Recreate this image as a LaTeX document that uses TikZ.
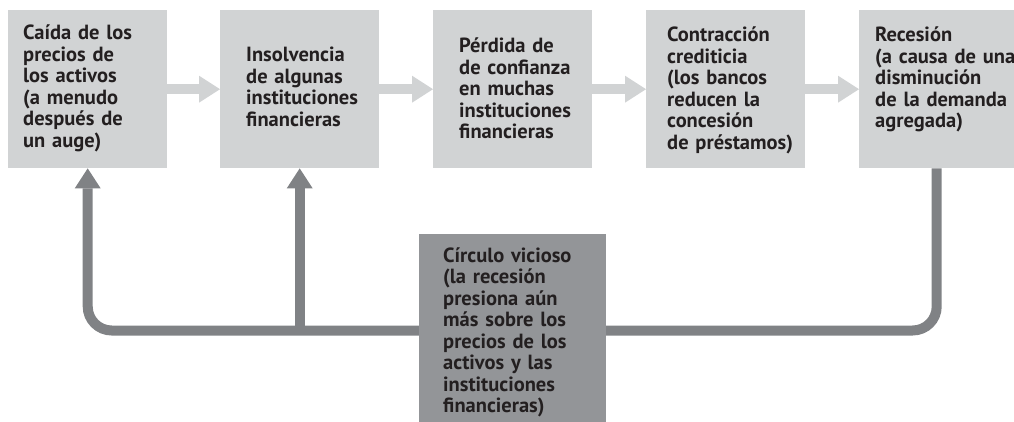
\documentclass[tikz,border=0pt]{standalone}
\usepackage{fontspec}
\setmainfont{PT Sans}
\usetikzlibrary{arrows.meta}

\definecolor{boxgray}{HTML}{D1D3D4}
\definecolor{loopgray}{HTML}{808285}
\definecolor{cvgray}{HTML}{939598}
\definecolor{inkblack}{HTML}{231F20}

\tikzset{
  stage/.style={fill=boxgray, inner sep=0pt, minimum width=159pt, minimum height=158pt, anchor=north west},
  cvbox/.style={fill=cvgray, inner sep=0pt, minimum width=187pt, minimum height=188pt, anchor=north west},
  stagetext/.style={anchor=base west, inner sep=0pt, text width=175pt, align=left, text=inkblack,
    font=\bfseries\fontsize{20.5}{21.5}\selectfont},
  flow/.style={draw=boxgray, line width=10pt, -{Triangle[width=27pt,length=21pt,line width=0pt]}},
  back/.style={draw=loopgray, line width=10pt, -{Triangle[width=26pt,length=20pt,line width=0pt]}},
}

\begin{document}
\begin{tikzpicture}[x=1pt,y=-1pt]
  \useasboundingbox (0,0) rectangle (1014,422);
  % the five stages
  \node[stage] (b1) at (8,10) {};
  \node[stage] (b2) at (220,10) {};
  \node[stage] (b3) at (433,10) {};
  \node[stage] (b4) at (646,10) {};
  \node[stage, minimum width=155pt] (b5) at (859,10) {};
  \foreach \a/\b in {b1/b2,b2/b3,b3/b4,b4/b5} {
    \draw[flow] (\a) -- (\b);
  }
  % feedback loop
  \coordinate (loopy) at (0,330.5);
  \draw[back, rounded corners=24pt] (b5.south) -- (b5.south |- loopy) -- (b1.south |- loopy) -- (b1.south);
  \draw[back] (b2.south |- loopy) -- (b2.south);
  \node[cvbox] (cv) at (419,234) {};
  % texts
  \node[stagetext, xshift=15pt, yshift=-30pt] (t1) at (b1.north west)
    {Caída de los\\precios de\\los activos\\(a menudo\\después de\\un auge)};
  \node[stagetext, xshift=26pt, yshift=-52pt] (t2) at (b2.north west)
    {Insolvencia\\de algunas\\instituciones\\financieras};
  \node[stagetext, xshift=26pt, yshift=-43pt] (t3) at (b3.north west)
    {Pérdida de\\de confianza\\en muchas\\instituciones\\financieras};
  \node[stagetext, xshift=21pt, yshift=-32pt] (t4) at (b4.north west)
    {Contracción\\crediticia\\(los bancos\\reducen la\\concesión\\de préstamos)};
  \node[stagetext, xshift=16pt, yshift=-32pt] (t5) at (b5.north west)
    {Recesión\\(a causa de una\\disminución\\de la demanda\\agregada)};
  \node[stagetext, xshift=24pt, yshift=-28pt] (tc) at (cv.north west)
    {Círculo vicioso\\(la recesión\\presiona aún\\más sobre los\\precios de los\\activos y las\\instituciones\\financieras)};
\end{tikzpicture}
\end{document}
